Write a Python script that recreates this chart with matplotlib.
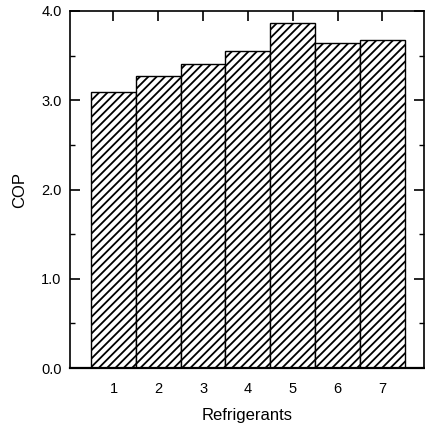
import matplotlib.pyplot as plt
import numpy as np

plt.rcParams['font.family'] = ['Liberation Sans', 'DejaVu Sans']
plt.rcParams['hatch.linewidth'] = 1.3

# refrigerant index and COP
refrigerants = [1, 2, 3, 4, 5, 6, 7]
cop = [3.09, 3.27, 3.41, 3.55, 3.87, 3.64, 3.67]

fig = plt.figure(figsize=(4.25, 4.28), dpi=100)
ax = fig.add_axes([70 / 425, 1 - 368 / 428, 354 / 425, 357 / 428])

ax.bar(refrigerants, cop, width=1.0, color='white', edgecolor='black',
       linewidth=1.0, hatch='////')

ax.set_xlim(0.03, 7.93)
ax.set_ylim(0, 4.0)

ax.set_yticks([0, 1, 2, 3, 4])
ax.set_yticklabels(['0.0', '1.0', '2.0', '3.0', '4.0'])
ax.set_yticks([0.5, 1.5, 2.5, 3.5], minor=True)
ax.set_xticks(refrigerants)

ax.tick_params(axis='y', which='major', direction='in', length=7, width=1.2,
               left=True, right=True, labelsize=10.5, pad=6)
ax.tick_params(axis='y', which='minor', direction='in', length=3.5, width=1.0,
               left=True, right=True)
ax.tick_params(axis='x', which='major', direction='in', length=7, width=1.2,
               top=True, bottom=False, labelsize=10.5, pad=10)

for s in ax.spines.values():
  s.set_linewidth(1.2)
ax.spines['bottom'].set_linewidth(1.6)

ax.set_xlabel('Refrigerants', fontsize=12, labelpad=9)
ax.set_ylabel('COP', fontsize=12, labelpad=10)

fig.savefig('out.png', dpi=100)
